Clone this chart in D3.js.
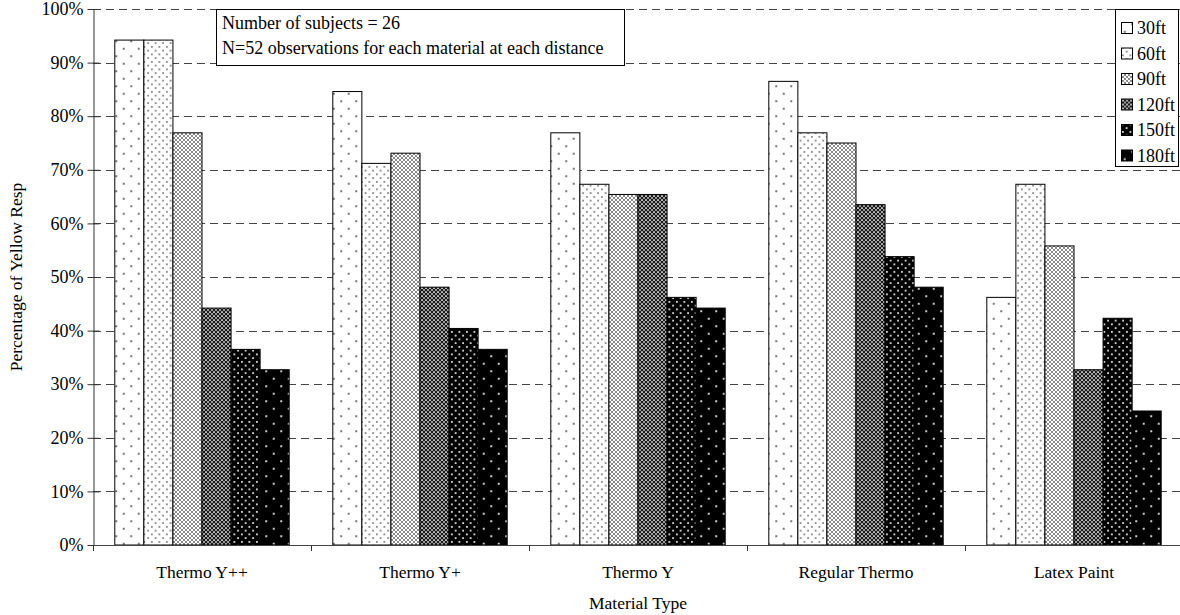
<!DOCTYPE html>
<html>
<head>
<meta charset="utf-8">
<script src="https://d3js.org/d3.v7.min.js"></script>
<style>
  body { margin: 0; background: #fff; }
</style>
</head>
<body>
<svg id="chart" width="1180" height="615"></svg>
<script>
// data (percent of yellow responses)
const materials = ["Thermo Y++", "Thermo Y+", "Thermo Y", "Regular Thermo", "Latex Paint"];
const distances = ["30ft", "60ft", "90ft", "120ft", "150ft", "180ft"];
const ft30  = [94.2, 84.6, 76.9, 86.5, 46.2];
const ft60  = [94.2, 71.2, 67.3, 76.9, 67.3];
const ft90  = [76.9, 73.1, 65.4, 75.0, 55.8];
const ft120 = [44.2, 48.1, 65.4, 63.5, 32.7];
const ft150 = [36.5, 40.4, 46.2, 53.8, 42.3];
const ft180 = [32.7, 36.5, 44.2, 48.1, 25.0];
const yTicks = [0, 10, 20, 30, 40, 50, 60, 70, 80, 90, 100];
const noteLines = ["Number of subjects = 26", "N=52 observations for each material at each distance"];

const series = [ft30, ft60, ft90, ft120, ft150, ft180];

// layout
const plotLeft = 93, plotRight = 1183, plotTop = 9, plotBottom = 545;
const serif = "'Liberation Serif', 'Times New Roman', Times, serif";

const svg = d3.select("#chart").style("font-family", serif);

let x = d3.scaleBand().domain(materials).range([plotLeft, plotRight]).paddingInner(0).paddingOuter(0);
let xi = d3.scaleBand().domain(distances).range([0, x.bandwidth()]).paddingInner(0).paddingOuter(0.75);
let y = d3.scaleLinear().domain([0, 100]).range([plotBottom, plotTop]);

// fill patterns, one per distance
let defs = svg.append("defs");
function dotPattern(id, size, bg, fg, r) {
    let p = defs.append("pattern").attr("id", id)
        .attr("patternUnits", "userSpaceOnUse")
        .attr("width", size).attr("height", size);
    p.append("rect").attr("width", size).attr("height", size).attr("fill", bg);
    [[size / 4, size / 4], [size * 3 / 4, size * 3 / 4]].forEach(function(c) {
        p.append("rect").attr("x", c[0] - r).attr("y", c[1] - r)
            .attr("width", r * 2).attr("height", r * 2).attr("fill", fg);
    });
}
function hatchPattern(id, bg, line, dot) {
    let p = defs.append("pattern").attr("id", id)
        .attr("patternUnits", "userSpaceOnUse")
        .attr("width", 4).attr("height", 4);
    p.append("rect").attr("width", 4).attr("height", 4).attr("fill", bg);
    p.append("path").attr("d", "M0,0L4,4M4,0L0,4M-1,3L1,5M3,-1L5,1M3,5L5,3M-1,1L1,-1")
        .attr("stroke", line).attr("stroke-width", 1).attr("fill", "none");
    p.append("rect").attr("x", 1.5).attr("y", 0).attr("width", 1).attr("height", 1).attr("fill", dot);
}
dotPattern("p30", 15, "#fff", "#777", 1);
dotPattern("p60", 7.5, "#fff", "#888", 0.9);
hatchPattern("p90", "#fff", "#8a8a8a", "#fff");
hatchPattern("p120", "#9a9a9a", "#1a1a1a", "#ddd");
dotPattern("p150", 7.5, "#000", "#ddd", 0.9);
dotPattern("p180", 15, "#000", "#ccc", 1);
const fills = ["url(#p30)", "url(#p60)", "url(#p90)", "url(#p120)", "url(#p150)", "url(#p180)"];

// gridlines
svg.append("g").selectAll("line")
    .data(yTicks.filter(d => d > 0))
    .join("line")
    .attr("x1", plotLeft).attr("x2", plotRight)
    .attr("y1", d => Math.round(y(d)) + 0.5).attr("y2", d => Math.round(y(d)) + 0.5)
    .attr("stroke", "#444").attr("stroke-width", 1)
    .attr("stroke-dasharray", "8,5");

// bars
let groups = svg.append("g").selectAll("g")
    .data(series)
    .join("g")
    .attr("fill", (d, i) => fills[i]);

groups.selectAll("rect")
    .data((vals, i) => vals.map((v, j) => ({ m: materials[j], d: distances[i], v: v })))
    .join("rect")
    .attr("x", d => x(d.m) + xi(d.d))
    .attr("width", xi.bandwidth())
    .attr("y", d => y(d.v))
    .attr("height", d => y(0) - y(d.v))
    .attr("stroke", "#000").attr("stroke-width", 1);

// y axis
let yAxis = svg.append("g")
    .attr("transform", `translate(${plotLeft + 0.5},0)`)
    .call(d3.axisLeft(y).tickValues(yTicks).tickFormat(d => d + "%").tickSize(6).tickSizeOuter(0).tickPadding(4));
yAxis.attr("font-family", null).attr("font-size", null);
yAxis.select(".domain").attr("stroke", "#333");
yAxis.selectAll(".tick line").attr("x1", 6).attr("stroke", "#333");
yAxis.selectAll("text").style("font-family", serif).style("font-size", "18px").attr("fill", "#000");

// x axis: baseline, ticks on category boundaries, labels in the middle
svg.append("line")
    .attr("x1", plotLeft).attr("x2", plotRight)
    .attr("y1", plotBottom + 0.5).attr("y2", plotBottom + 0.5)
    .attr("stroke", "#444");
svg.append("g").selectAll("line")
    .data(materials.map(m => x(m)).concat([plotRight]))
    .join("line")
    .attr("x1", d => Math.round(d) + 0.5).attr("x2", d => Math.round(d) + 0.5)
    .attr("y1", plotBottom).attr("y2", plotBottom + 6)
    .attr("stroke", "#333");
let xAxis = svg.append("g")
    .attr("transform", `translate(0,${plotBottom})`)
    .call(d3.axisBottom(x).tickSize(0).tickPadding(21));
xAxis.attr("font-family", null).attr("font-size", null);
xAxis.select(".domain").remove();
xAxis.selectAll("text").style("font-family", serif).style("font-size", "17.5px").attr("fill", "#000");

// axis titles
svg.append("text")
    .attr("x", (plotLeft + plotRight) / 2).attr("y", 609)
    .attr("text-anchor", "middle")
    .style("font-family", serif).style("font-size", "17.5px")
    .text("Material Type");
svg.append("text")
    .attr("transform", `translate(22,${(plotTop + plotBottom) / 2}) rotate(-90)`)
    .attr("text-anchor", "middle")
    .style("font-family", serif).style("font-size", "17.5px")
    .text("Percentage of Yellow Resp");

// note box
let note = svg.append("g");
note.append("rect")
    .attr("x", 216.5).attr("y", 9.5).attr("width", 408).attr("height", 56)
    .attr("fill", "#fff").attr("stroke", "#000");
note.selectAll("text")
    .data(noteLines)
    .join("text")
    .attr("x", 222).attr("y", (d, i) => 29 + i * 25)
    .style("font-family", serif).style("font-size", "18px")
    .text(d => d);

// legend
let legend = svg.append("g");
legend.append("rect")
    .attr("x", 1115.5).attr("y", 9.5).attr("width", 63).attr("height", 157)
    .attr("fill", "#fff").attr("stroke", "#000");
let items = legend.selectAll("g")
    .data(distances)
    .join("g")
    .attr("transform", (d, i) => `translate(1121,${28 + i * 25.5})`);
items.append("rect")
    .attr("x", 0.5).attr("y", -5.5).attr("width", 11).attr("height", 11)
    .attr("fill", (d, i) => fills[i]).attr("stroke", "#000");
items.append("text")
    .attr("x", 16).attr("y", 6)
    .style("font-family", serif).style("font-size", "18px")
    .text(d => d);
</script>
</body>
</html>
